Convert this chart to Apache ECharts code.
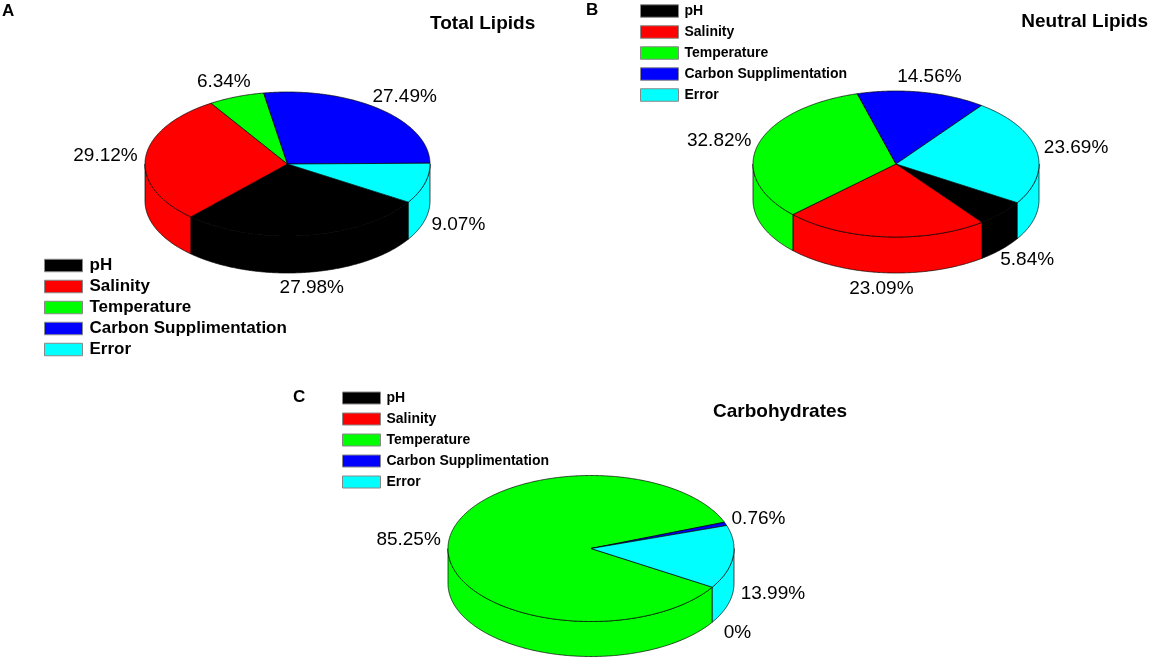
<!DOCTYPE html>
<html><head><meta charset="utf-8">
<script src="https://cdn.jsdelivr.net/npm/echarts@6/dist/echarts.min.js"></script>
<style>html,body{margin:0;padding:0;background:#fff}#c{width:1149px;height:658px}</style>
</head><body><div id="c"></div>
<script>
// ---- data ----
const factors = ['pH', 'Salinity', 'Temperature', 'Carbon Supplimentation', 'Error'];
const factorColors = ['#000000', '#ff0000', '#00ff00', '#0000ff', '#00ffff'];
const totalLipids = [27.98, 29.12, 6.34, 27.49, 9.07];
const neutralLipids = [5.84, 23.09, 32.82, 14.56, 23.69];
const carbohydrates = [0, 0, 85.25, 0.76, 13.99];
const chartTitles = ['Total Lipids', 'Neutral Lipids', 'Carbohydrates'];
const panelLetters = ['A', 'B', 'C'];

const datasets = [totalLipids, neutralLipids, carbohydrates];

// ---- layout (geometry of each 3D pie) ----
const pies = [
  { cx: 287.5, cy: 164, rx: 142.5, ry: 72, depth: 37, start: -32 },
  { cx: 896, cy: 164, rx: 143, ry: 73, depth: 36, start: -32 },
  { cx: 591, cy: 548.5, rx: 143, ry: 73, depth: 35, start: -32 }
];
const LABEL_FONT = '19px "Liberation Sans", Arial, sans-serif';
const measureCtx = document.createElement('canvas').getContext('2d');
function textWidth(t) { measureCtx.font = LABEL_FONT; return measureCtx.measureText(t).width; }
const fmt = v => (v === 0 ? '0%' : v.toFixed(2) + '%');

function makeRender(c, i) {
  const P = pies[c];
  const vals = datasets[c];
  return function (params, api) {
    const total = vals.reduce((s, v) => s + v, 0);
    let cum = 0;
    for (let k = 0; k < i; k++) cum += vals[k];
    const v = api.value(0);
    const a0 = P.start - 360 * cum / total;
    const a1 = a0 - 360 * v / total;
    const rad = d => d * Math.PI / 180;
    const pt = (t, dy) => [P.cx + P.rx * Math.cos(rad(t)), P.cy - P.ry * Math.sin(rad(t)) + dy];
    const arc = (from, to, dy) => {
      const n = Math.max(2, Math.ceil(Math.abs(to - from) / 0.5));
      const out = [];
      for (let j = 0; j <= n; j++) out.push(pt(from + (to - from) * j / n, dy));
      return out;
    };
    const color = api.visual('color');
    const children = [];
    if (v > 0) {
      for (let k = -2; k <= 1; k++) {
        const lo = Math.max(a1, -180 + 360 * k), hi = Math.min(a0, 360 * k);
        if (hi > lo) {
          const pts = arc(lo, hi, 0).concat(arc(hi, lo, P.depth));
          children.push({ type: 'polygon', shape: { points: pts },
            style: { fill: color, stroke: '#000', lineWidth: 0.7 }, z2: 1 });
        }
      }
      children.push({ type: 'polygon', shape: { points: [[P.cx, P.cy]].concat(arc(a0, a1, 0)) },
        style: { fill: color, stroke: '#000', lineWidth: 0.7 }, z2: 2 });
    }
    // zero slices sharing one angle show a single label
    const hideLabel = v === 0 && i > 0 && vals[i - 1] === 0;
    if (!hideLabel) {
      const m = (a0 + a1) / 2;
      const cm = Math.cos(rad(m)), sm = Math.sin(rad(m));
      const off = v === 0 ? 16 : 8;
      const ax = P.cx + (P.rx + off) * cm;
      const ay = P.cy - (P.ry + off * 0.5) * sm + (sm < 0 ? P.depth : 0);
      const txt = fmt(v);
      const w = textWidth(txt);
      children.push({ type: 'text', x: ax + cm * w / 2, y: ay - sm * 8 + (sm < 0 ? -sm * 4 : -sm * -0) - (sm >= 0 ? sm * 4 : 0), z2: 3,
        style: { text: txt, align: 'center', verticalAlign: 'middle', font: LABEL_FONT, fill: '#000' } });
    }
    return { type: 'group', children };
  };
}

const series = [];
datasets.forEach((vals, c) => {
  factors.forEach((name, i) => {
    series.push({
      type: 'custom', name, coordinateSystem: 'none', silent: true, animation: false,
      itemStyle: { color: factorColors[i] },
      data: [[vals[i]]],
      renderItem: makeRender(c, i)
    });
  });
});

const legendBase = {
  data: factors, orient: 'vertical', icon: 'rect', itemWidth: 38, itemGap: 0,
  padding: 0, selectedMode: false,
  itemStyle: { borderColor: '#888', borderWidth: 1 }
};
const legends = [
  Object.assign({}, legendBase, { left: 44, top: 255, itemHeight: 12.5,
    textStyle: { fontSize: 17, fontWeight: 'bold', lineHeight: 21, color: '#000', fontFamily: 'Liberation Sans', padding: [0, 0, 0, 2] } }),
  Object.assign({}, legendBase, { left: 640, top: 0.5, itemHeight: 12.5,
    textStyle: { fontSize: 14, fontWeight: 'bold', lineHeight: 21, color: '#000', fontFamily: 'Liberation Sans', padding: [0, 0, 0, 1] } }),
  Object.assign({}, legendBase, { left: 342, top: 387.5, itemHeight: 12,
    textStyle: { fontSize: 14, fontWeight: 'bold', lineHeight: 21, color: '#000', fontFamily: 'Liberation Sans', padding: [0, 0, 0, 1] } })
];

const tStyle = (size) => ({ fontSize: size, fontWeight: 'bold', color: '#000', fontFamily: 'Liberation Sans' });
const titles = [
  { text: panelLetters[0], left: 2, top: 2.5, padding: 0, textStyle: tStyle(17) },
  { text: chartTitles[0], left: 430, top: 14.5, padding: 0, textStyle: tStyle(19) },
  { text: panelLetters[1], left: 586, top: 1.5, padding: 0, textStyle: tStyle(17) },
  { text: chartTitles[1], right: 1, top: 12, padding: 0, textStyle: tStyle(19) },
  { text: panelLetters[2], left: 293, top: 388.5, padding: 0, textStyle: tStyle(17) },
  { text: chartTitles[2], left: 713, top: 402.5, padding: 0, textStyle: tStyle(19) }
];

const chart = echarts.init(document.getElementById('c'), null, { renderer: 'canvas' });
chart.setOption({
  backgroundColor: '#fff',
  animation: false,
  title: titles,
  legend: legends,
  series
});
</script>
</body></html>
